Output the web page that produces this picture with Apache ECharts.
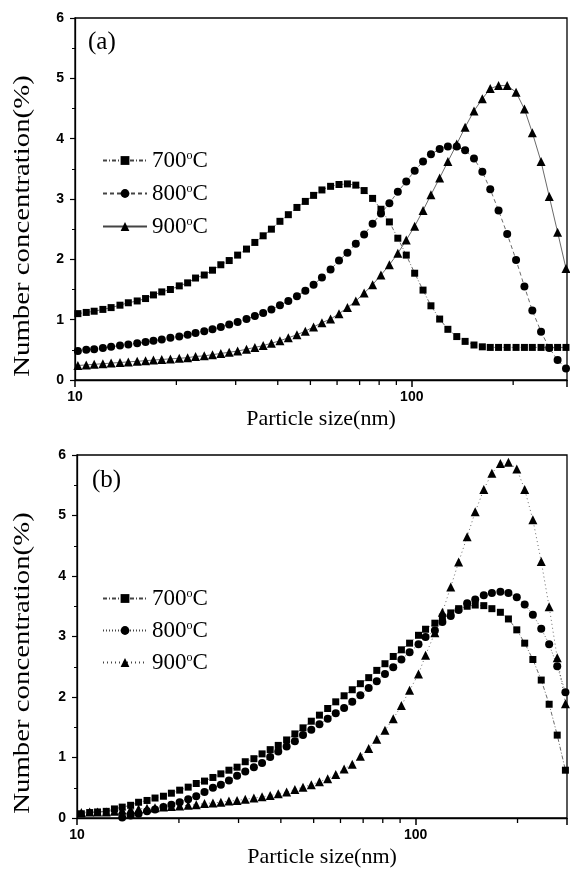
<!DOCTYPE html>
<html>
<head>
<meta charset="utf-8">
<script src="https://cdn.jsdelivr.net/npm/echarts@6/dist/echarts.min.js"></script>
<style>
html, body { margin: 0; padding: 0; background: #fff; }
#main { width: 570px; height: 872px; }
</style>
</head>
<body>
<div id="main"></div>
<script>
// particle sizes (nm) of the sizer channels
var sizesA = [10.2, 10.8, 11.4, 12.1, 12.8, 13.6, 14.4, 15.3, 16.2, 17.1, 18.1, 19.2, 20.4, 21.6, 22.8,
  24.2, 25.6, 27.1, 28.7, 30.4, 32.3, 34.2, 36.2, 38.3, 40.6, 43.0, 45.6, 48.3, 51.1, 54.1, 57.4,
  60.8, 64.4, 68.2, 72.2, 76.5, 81.0, 85.8, 90.9, 96.3, 102, 108, 114, 121, 128, 136, 144, 153,
  162, 171, 181, 192, 204, 216, 228, 242, 256, 271, 287];
var sizesB = [10.3, 10.9, 11.5, 12.2, 12.9, 13.6, 14.4, 15.2, 16.1, 17.0, 18.0, 19.0, 20.1, 21.3, 22.5,
  23.8, 25.2, 26.6, 28.1, 29.7, 31.4, 33.3, 35.2, 37.2, 39.3, 41.6, 44.0, 46.5, 49.2, 52.0, 55.0,
  58.1, 61.5, 65.0, 68.7, 72.7, 76.8, 81.2, 85.9, 90.8, 96.0, 102, 107, 114, 120, 127, 134, 142,
  150, 159, 168, 178, 188, 199, 210, 222, 235, 248, 262, 277];

// panel (a) number concentration (%)
var a700 = [1.10, 1.12, 1.14, 1.17, 1.20, 1.24, 1.28, 1.31, 1.35, 1.41, 1.46, 1.50, 1.56, 1.61, 1.69,
  1.74, 1.82, 1.91, 1.98, 2.07, 2.17, 2.28, 2.39, 2.50, 2.63, 2.74, 2.86, 2.96, 3.06,
  3.15, 3.21, 3.24, 3.25, 3.23, 3.14, 3.01, 2.83, 2.62, 2.35, 2.07, 1.77, 1.49, 1.23, 1.01,
  0.84, 0.72, 0.64, 0.58, 0.55, 0.54, 0.54, 0.54, 0.54, 0.54, 0.54, 0.54, 0.54, 0.54, 0.54];
var a800 = [0.48, 0.50, 0.51, 0.53, 0.55, 0.57, 0.59, 0.61, 0.63, 0.65, 0.67, 0.70, 0.72, 0.75, 0.78,
  0.81, 0.84, 0.88, 0.92, 0.96, 1.01, 1.06, 1.11, 1.17, 1.24, 1.31, 1.39, 1.48, 1.58,
  1.70, 1.83, 1.98, 2.11, 2.26, 2.41, 2.59, 2.76, 2.93, 3.12, 3.29, 3.47, 3.62, 3.74, 3.83,
  3.87, 3.87, 3.81, 3.67, 3.45, 3.16, 2.81, 2.42, 1.99, 1.55, 1.15, 0.80, 0.53, 0.33, 0.19];
var a900 = [0.24, 0.25, 0.26, 0.27, 0.28, 0.29, 0.30, 0.31, 0.32, 0.33, 0.34, 0.35, 0.36, 0.37, 0.39,
  0.40, 0.42, 0.44, 0.46, 0.48, 0.51, 0.54, 0.57, 0.61, 0.65, 0.70, 0.75, 0.81, 0.88,
  0.95, 1.01, 1.10, 1.20, 1.31, 1.44, 1.58, 1.74, 1.91, 2.10, 2.32, 2.55, 2.81, 3.07, 3.35,
  3.62, 3.91, 4.19, 4.46, 4.66, 4.83, 4.88, 4.88, 4.77, 4.49, 4.10, 3.62, 3.04, 2.45, 1.85];

// panel (b)
var b700 = [0.07, 0.09, 0.10, 0.11, 0.15, 0.18, 0.21, 0.26, 0.29, 0.33, 0.36, 0.41, 0.46, 0.51, 0.57,
  0.61, 0.67, 0.73, 0.79, 0.84, 0.93, 0.98, 1.06, 1.13, 1.20, 1.29, 1.39, 1.49, 1.60,
  1.70, 1.81, 1.92, 2.02, 2.12, 2.22, 2.32, 2.44, 2.55, 2.67, 2.78, 2.89, 3.02, 3.12, 3.22,
  3.32, 3.39, 3.46, 3.50, 3.52, 3.51, 3.46, 3.40, 3.29, 3.11, 2.89, 2.62, 2.28, 1.88, 1.37, 0.79];
var b800 = [null, null, null, null, null, 0.01, 0.04, 0.07, 0.11, 0.14, 0.18, 0.22, 0.26, 0.31, 0.36,
  0.43, 0.50, 0.55, 0.62, 0.70, 0.77, 0.84, 0.91, 1.01, 1.10, 1.18, 1.27, 1.37, 1.46,
  1.55, 1.64, 1.73, 1.82, 1.92, 2.03, 2.15, 2.26, 2.38, 2.49, 2.62, 2.74, 2.87, 2.99, 3.10,
  3.24, 3.34, 3.44, 3.55, 3.61, 3.68, 3.72, 3.74, 3.72, 3.65, 3.53, 3.36, 3.13, 2.87, 2.51, 2.08];
var b900 = [0.09, 0.10, 0.10, 0.10, 0.11, 0.13, 0.14, 0.15, 0.16, 0.17, 0.18, 0.19, 0.20, 0.21, 0.22,
  0.24, 0.25, 0.26, 0.28, 0.29, 0.31, 0.33, 0.35, 0.37, 0.40, 0.43, 0.47, 0.51, 0.55,
  0.60, 0.65, 0.72, 0.81, 0.89, 1.02, 1.15, 1.30, 1.45, 1.64, 1.86, 2.11, 2.38, 2.69, 3.06,
  3.40, 3.82, 4.23, 4.65, 5.06, 5.43, 5.70, 5.86, 5.88, 5.77, 5.43, 4.93, 4.24, 3.49, 2.65, 1.89];

var temps = ['700', '800', '900'];
var xMaxA = 289, xMaxB = 280;
// minor ticks of the log axis
var minorX = [20, 30, 40, 50, 60, 70, 80, 90, 200];

var serif = 'Liberation Serif';
var sans = 'Liberation Sans';

function pairs(xs, ys) {
  var out = [];
  for (var i = 0; i < xs.length; i++) {
    if (ys[i] != null) out.push([xs[i], ys[i]]);
  }
  return out;
}

function xAxisOpt(idx, max) {
  return {
    type: 'log', logBase: 10, gridIndex: idx, min: 10, max: max,
    name: 'Particle size(nm)', nameLocation: 'middle', nameGap: 28,
    nameTextStyle: { fontFamily: serif, fontSize: 22, color: '#000' },
    axisLine: { lineStyle: { color: '#000', width: 1.3 } },
    axisTick: { length: 7, lineStyle: { color: '#000', width: 1.5 } },
    axisLabel: {
      fontFamily: sans, fontSize: 14, fontWeight: 'bold', color: '#000', margin: 10,
      formatter: function (v) {
        var l = Math.log10(v);
        return Math.abs(l - Math.round(l)) < 1e-6 ? String(Math.round(v)) : '';
      }
    },
    splitLine: { show: false }
  };
}

function yAxisOpt(idx) {
  return {
    type: 'value', gridIndex: idx, min: 0, max: 6, interval: 1,
    axisLine: { show: true, lineStyle: { color: '#000', width: 1.3 } },
    axisTick: { show: true, length: 5, lineStyle: { color: '#000', width: 1.2 } },
    minorTick: { show: true, splitNumber: 2, length: 3, lineStyle: { color: '#000', width: 1 } },
    axisLabel: { fontFamily: sans, fontSize: 14, fontWeight: 'bold', color: '#000', margin: 11 },
    splitLine: { show: false }
  };
}

var symbols = ['rect', 'circle', 'triangle'];
var symbolSizes = [7, 8, 9];
var dashA = [[4, 2, 1, 2], [4, 3], 'solid'];
var dashB = [[4, 2, 1, 2], [1, 2], [1, 3]];

function series(name, idx, xs, ys, k, dash) {
  return {
    name: name, type: 'line', xAxisIndex: idx, yAxisIndex: idx,
    data: pairs(xs, ys),
    symbol: symbols[k], symbolSize: symbolSizes[k], showAllSymbol: true,
    itemStyle: { color: '#000' },
    lineStyle: { color: '#444', width: 0.8, type: dash[k] },
    emphasis: { disabled: true },
    animation: false
  };
}

// outward tick marks at the log minor positions, placed through the axis scale
function minorTicks(idx) {
  return {
    type: 'custom', xAxisIndex: idx, yAxisIndex: idx, clip: false, silent: true,
    data: minorX.map(function (v) { return [v, 0]; }),
    renderItem: function (params, api) {
      var p = api.coord([api.value(0), 0]);
      return {
        type: 'line',
        shape: { x1: p[0], y1: p[1], x2: p[0], y2: p[1] + 5 },
        style: { stroke: '#000', lineWidth: 1.3 }
      };
    },
    z: 5, animation: false
  };
}

function legendOpt(prefix, top, gap) {
  return {
    orient: 'vertical', left: 97, top: top, itemGap: gap,
    itemWidth: 44, itemHeight: 11,
    data: temps.map(function (t) { return prefix + t; }),
    formatter: function (name) { return '{n|' + name.slice(1) + '}{s|o}{n|C}'; },
    textStyle: {
      color: '#000',
      rich: {
        n: { fontFamily: serif, fontSize: 23, lineHeight: 22, color: '#000' },
        s: { fontFamily: serif, fontSize: 12, lineHeight: 12, verticalAlign: 'top', color: '#000' }
      }
    }
  };
}

function yTitle(cy) {
  return {
    type: 'text', x: 23, y: cy, rotation: Math.PI / 2, scaleX: 1.2,
    style: { text: 'Number concentration(%)', font: '24px "Liberation Serif"', fill: '#000', align: 'center', verticalAlign: 'middle' }
  };
}

var chart = echarts.init(document.getElementById('main'));
chart.setOption({
  backgroundColor: '#fff',
  animation: false,
  grid: [
    { left: 75, top: 18, width: 494, height: 362, show: true, borderColor: '#000', borderWidth: 1.3 },
    { left: 77, top: 455, width: 492, height: 363, show: true, borderColor: '#000', borderWidth: 1.3 }
  ],
  xAxis: [xAxisOpt(0, xMaxA), xAxisOpt(1, xMaxB)],
  yAxis: [yAxisOpt(0), yAxisOpt(1)],
  legend: [legendOpt('a', 144, 10), legendOpt('b', 582, 9)],
  graphic: [
    { type: 'text', left: 88, top: 30, style: { text: '(a)', font: '25px "Liberation Serif"', fill: '#000' } },
    { type: 'text', left: 92, top: 468, style: { text: '(b)', font: '25px "Liberation Serif"', fill: '#000' } },
    yTitle(226),
    yTitle(663)
  ],
  series: [
    minorTicks(0),
    minorTicks(1),
    series('a700', 0, sizesA, a700, 0, dashA),
    series('a800', 0, sizesA, a800, 1, dashA),
    series('a900', 0, sizesA, a900, 2, dashA),
    series('b700', 1, sizesB, b700, 0, dashB),
    series('b800', 1, sizesB, b800, 1, dashB),
    series('b900', 1, sizesB, b900, 2, dashB)
  ]
});
</script>
</body>
</html>
